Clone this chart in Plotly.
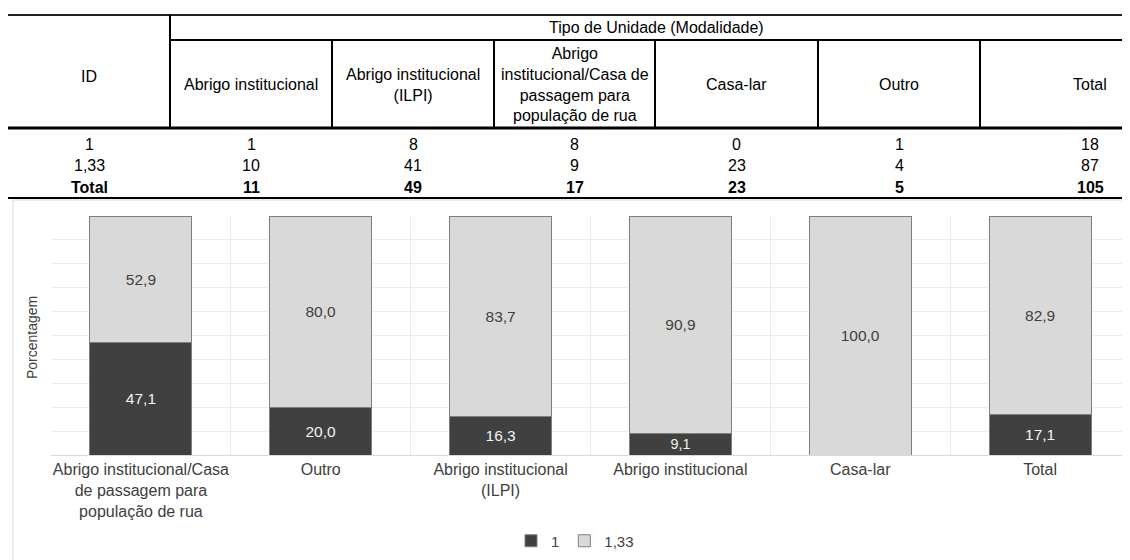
import plotly.graph_objects as go

# ---------------- data ----------------
chart_categories = [
    "Abrigo institucional/Casa<br>de passagem para<br>população de rua",
    "Outro",
    "Abrigo institucional<br>(ILPI)",
    "Abrigo institucional",
    "Casa-lar",
    "Total",
]
pct_id_1 = [47.1, 20.0, 16.3, 9.1, 0.0, 17.1]
pct_id_133 = [52.9, 80.0, 83.7, 90.9, 100.0, 82.9]
series_names = ["1", "1,33"]

table_group_title = "Tipo de Unidade (Modalidade)"
table_id_header = "ID"
table_columns = [
    "Abrigo institucional",
    "Abrigo institucional<br>(ILPI)",
    "Abrigo<br>institucional/Casa de<br>passagem para<br>população de rua",
    "Casa-lar",
    "Outro",
    "Total",
]
table_row_ids = ["1", "1,33", "Total"]
table_row_1 = [1, 8, 8, 0, 1, 18]
table_row_133 = [10, 41, 9, 23, 4, 87]
table_row_total = [11, 49, 17, 23, 5, 105]

y_title = "Porcentagem"

# ---------------- layout helpers ----------------
W, H = 1130, 560
OFF = 8  # page body margin offset
FONT = "Liberation Sans, Arial, sans-serif"


def px(x):
    return (x - OFF) / W


def py(y):
    return 1 - (y - OFF) / H


def fmt(v):
    return f"{v:.1f}".replace(".", ",") if v > 0 else ""


fig = go.Figure()
fig.add_trace(go.Bar(
    x=chart_categories, y=pct_id_1, name=series_names[0],
    marker=dict(color="#404040", line=dict(color="#7f7f7f", width=1)),
    text=[fmt(v) for v in pct_id_1], textposition="inside",
    insidetextanchor="middle", textangle=0,
    textfont=dict(family=FONT, size=15.5, color="#f2f2f2"),
    hoverinfo="skip",
))
fig.add_trace(go.Bar(
    x=chart_categories, y=pct_id_133, name=series_names[1],
    marker=dict(color="#d9d9d9", line=dict(color="#7f7f7f", width=1)),
    text=[fmt(v) for v in pct_id_133], textposition="inside",
    insidetextanchor="middle", textangle=0,
    textfont=dict(family=FONT, size=15.5, color="#404040"),
    hoverinfo="skip",
))

shapes = []
annotations = []


def hline(y, x0, x1, w=1, color="#000000"):
    shapes.append(dict(type="line", xref="paper", yref="paper",
                       x0=px(x0), x1=px(x1), y0=py(y), y1=py(y),
                       line=dict(color=color, width=w)))


def vline(x, y0, y1, w=1, color="#000000"):
    shapes.append(dict(type="line", xref="paper", yref="paper",
                       x0=px(x), x1=px(x), y0=py(y0), y1=py(y1),
                       line=dict(color=color, width=w)))


def text(x, y, s, size=16, bold=False, color="#000000"):
    if bold:
        s = f"<b>{s}</b>"
    annotations.append(dict(xref="paper", yref="paper", x=px(x), y=py(y),
                            text=s, showarrow=False, xanchor="center",
                            yanchor="middle",
                            font=dict(family=FONT, size=size, color=color)))


# table frame
hline(15, 8, 1140, w=2, color="#222222")
hline(40, 170, 1140, w=2)
hline(128, 8, 1140, w=3)
hline(198, 8, 1140, w=2)
vline(170, 15, 128, w=2)
col_edges = [170, 332, 494, 655, 818, 980, 1200]
for xe in col_edges[1:-1]:
    vline(xe, 40, 128, w=2)

text(656, 28, table_group_title)
text(89, 76, table_id_header)
col_centers = [(col_edges[i] + col_edges[i + 1]) / 2 for i in range(6)]
for cx, lab in zip(col_centers, table_columns):
    text(cx, 85, lab)

row_ys = [144, 165, 187]
rows = [table_row_1, table_row_133, table_row_total]
for ry, rid, vals in zip(row_ys, table_row_ids, rows):
    bold = rid == "Total"
    text(89, ry, rid, bold=bold)
    for cx, v in zip(col_centers, vals):
        text(cx, ry, str(v), bold=bold)

# chart panel border
shapes.append(dict(type="rect", xref="paper", yref="paper",
                   x0=px(13), x1=px(1150), y0=py(580), y1=py(200),
                   line=dict(color="#d9d9d9", width=1), layer="below"))

# y axis title
annotations.append(dict(xref="paper", yref="paper", x=px(32), y=py(338),
                        text=y_title, showarrow=False, textangle=-90,
                        xanchor="center", yanchor="middle",
                        font=dict(family=FONT, size=14, color="#404040")))

fig.update_layout(
    width=W, height=H,
    margin=dict(l=0, r=0, t=0, b=0),
    paper_bgcolor="white", plot_bgcolor="white",
    barmode="stack", bargap=0.433,
    separators=",.",
    font=dict(family=FONT, size=16, color="#404040"),
    shapes=shapes, annotations=annotations,
    showlegend=True,
    legend=dict(orientation="h", x=px(575), xanchor="center",
                y=py(541), yanchor="middle", itemwidth=30,
                font=dict(family=FONT, size=15, color="#404040"),
                traceorder="normal"),
    xaxis=dict(domain=[px(51), px(1130)], type="category",
               tickson="boundaries", showgrid=True, gridcolor="#ebebeb",
               gridwidth=1, ticks="", showline=True, linecolor="#d9d9d9",
               tickfont=dict(family=FONT, size=16, color="#404040"),
               tickangle=0,
               automargin=False, fixedrange=True),
    yaxis=dict(domain=[py(455), py(216)], range=[0, 100], dtick=10,
               showgrid=True, gridcolor="#ebebeb", gridwidth=1,
               showticklabels=False, zeroline=False, ticks="",
               automargin=False, fixedrange=True),
)

fig.write_html("out.html")
